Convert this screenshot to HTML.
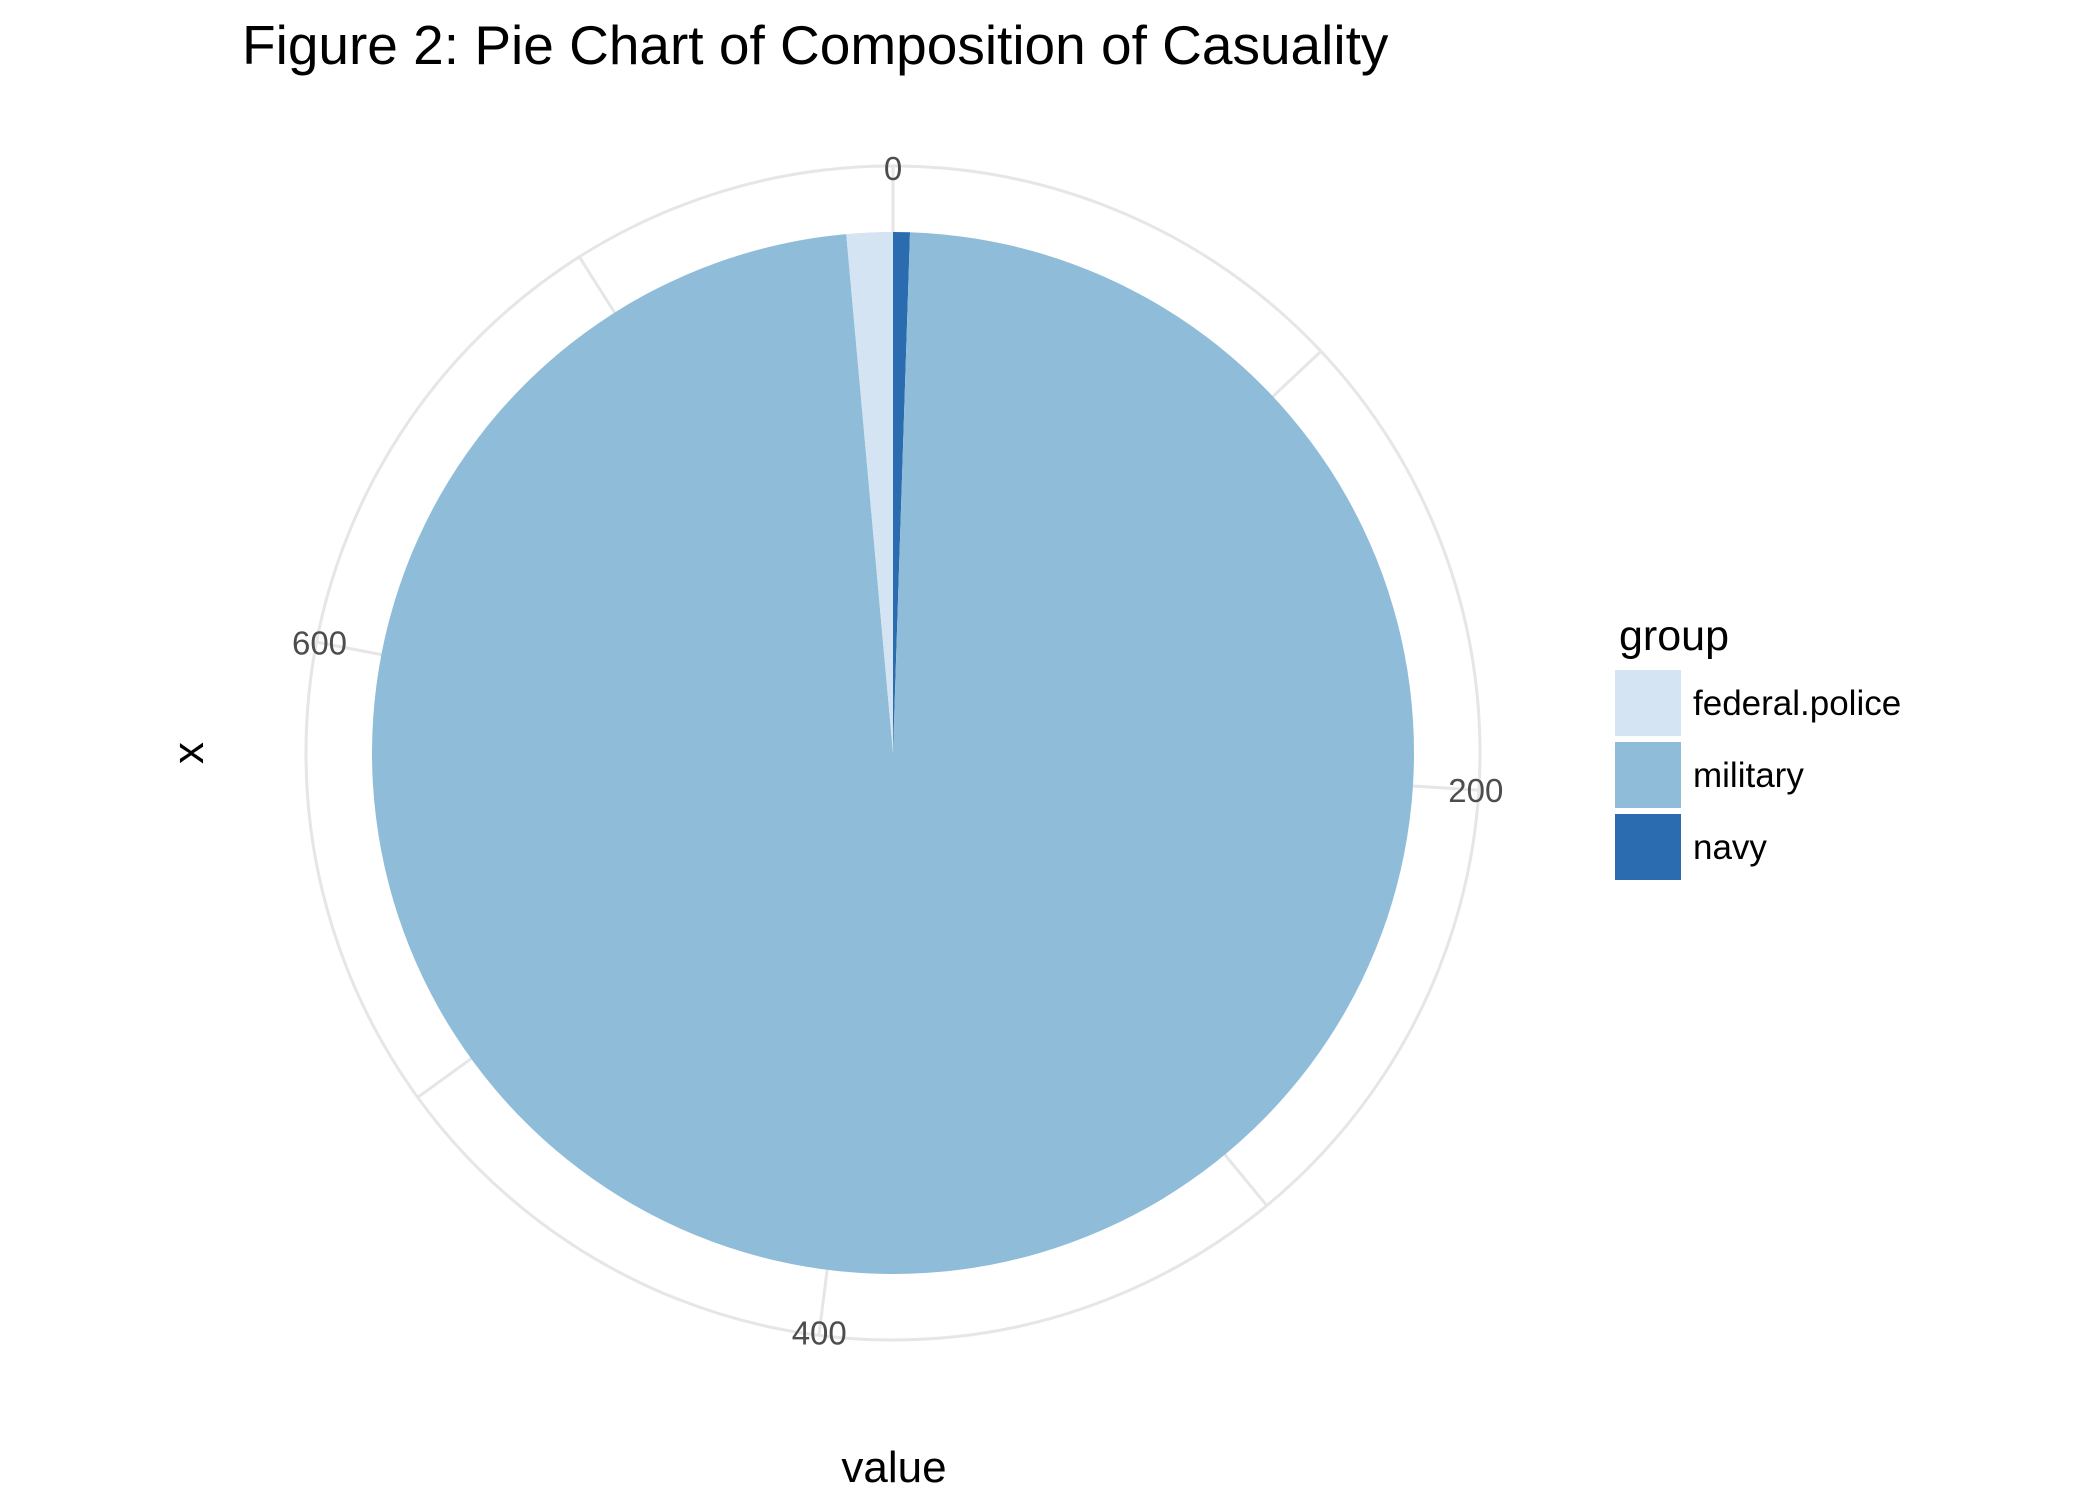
<!DOCTYPE html>
<html><head><meta charset="utf-8"><style>
body{margin:0;background:#fff}
svg{display:block;font-family:"Liberation Sans",Arial,sans-serif}
</style></head><body>
<svg id="chart" width="2099" height="1499" viewBox="0 0 2099 1499">
<text x="242" y="64" font-size="55" fill="#000">Figure 2: Pie Chart of Composition of Casuality</text>
<g id="grid"></g>
<g id="slices"></g>
<g id="ticks"></g>
<text x="894" y="1482" font-size="44" text-anchor="middle" fill="#000">value</text>
<text x="0" y="0" font-size="44" text-anchor="middle" fill="#000" transform="translate(203,753) rotate(-90)">x</text>
<g id="legend">
<text x="1619" y="650" font-size="43" fill="#000">group</text>
</g>
</svg>
<script>
const categories = ["navy", "military", "federal.police"];
const values = [4, 754, 11];
const colors = ["#2b6cb0", "#8fbdd9", "#d4e4f3"];
const legendOrder = ["federal.police", "military", "navy"];
const tickValues = [0, 200, 400, 600];
const tickLabels = ["0", "200", "400", "600"];
const minorTicks = [100, 300, 500, 700];

const NS = "http://www.w3.org/2000/svg";
const cx = 893, cy = 753, R = 521, Rg = 587;
const total = values.reduce((a, b) => a + b, 0);
function ang(v){ return v / total * 2 * Math.PI; }
function pt(a, r){ return [cx + r * Math.sin(a), cy - r * Math.cos(a)]; }

const grid = document.getElementById('grid');
const circ = document.createElementNS(NS, 'circle');
circ.setAttribute('cx', cx); circ.setAttribute('cy', cy); circ.setAttribute('r', Rg);
circ.setAttribute('fill', 'none'); circ.setAttribute('stroke', '#e6e6e6'); circ.setAttribute('stroke-width', '3');


grid.appendChild(circ);
tickValues.concat(minorTicks).forEach((t) => {
  const a = ang(t);
  const [x1, y1] = pt(a, 0), [x2, y2] = pt(a, Rg);
  const l = document.createElementNS(NS, 'line');
  l.setAttribute('x1', x1); l.setAttribute('y1', y1); l.setAttribute('x2', x2); l.setAttribute('y2', y2);
  l.setAttribute('stroke', '#e6e6e6'); l.setAttribute('stroke-width', '3');
  
  
  grid.appendChild(l);
});

const slices = document.getElementById('slices');
let cum = 0;
values.forEach((v, i) => {
  const a0 = ang(cum), a1 = ang(cum + v);
  cum += v;
  const [x0, y0] = pt(a0, R), [x1, y1] = pt(a1, R);
  const large = (a1 - a0) > Math.PI ? 1 : 0;
  const p = document.createElementNS(NS, 'path');
  p.setAttribute('d', `M${cx},${cy} L${x0},${y0} A${R},${R} 0 ${large} 1 ${x1},${y1} Z`);
  p.setAttribute('fill', colors[i]);
  
  
  slices.appendChild(p);
});

const ticks = document.getElementById('ticks');
tickValues.forEach((t, i) => {
  const a = ang(t);
  const [x, y] = pt(a, t === 0 ? Rg - 2 : Rg - 3);
  const tx = document.createElementNS(NS, 'text');
  tx.setAttribute('x', x); tx.setAttribute('y', y + 12);
  tx.setAttribute('font-size', '33'); tx.setAttribute('fill', '#4d4d4d');
  tx.setAttribute('text-anchor', 'middle');
  tx.textContent = tickLabels[i];
  
  
  ticks.appendChild(tx);
});

const legend = document.getElementById('legend');
legendOrder.forEach((name, i) => {
  const ci = categories.indexOf(name);
  const y = 670 + i * 72;
  const r = document.createElementNS(NS, 'rect');
  r.setAttribute('x', 1615); r.setAttribute('y', y); r.setAttribute('width', 66); r.setAttribute('height', 66);
  r.setAttribute('fill', colors[ci]);
  
  
  legend.appendChild(r);
  const tx = document.createElementNS(NS, 'text');
  tx.setAttribute('x', 1693); tx.setAttribute('y', y + 45);
  tx.setAttribute('font-size', '35'); tx.setAttribute('fill', '#000');
  tx.textContent = name;
  
  
  legend.appendChild(tx);
});
</script>
</body></html>
